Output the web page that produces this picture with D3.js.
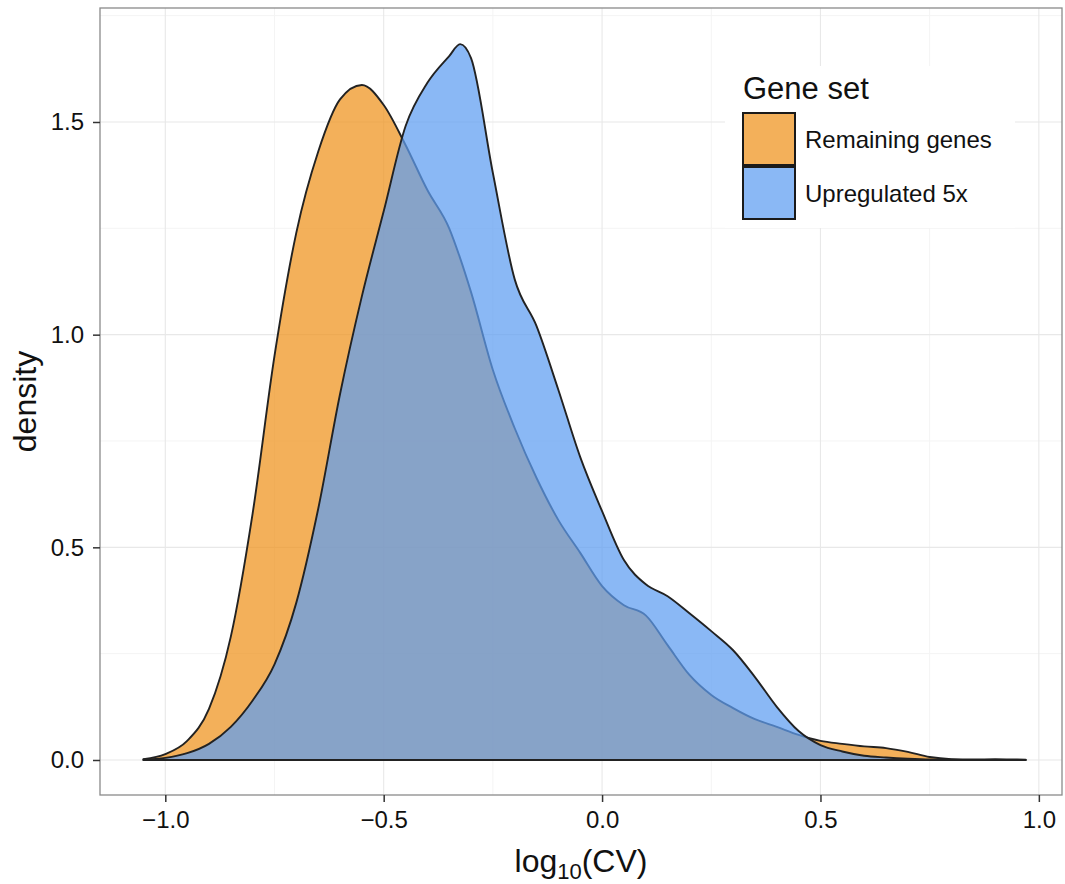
<!DOCTYPE html>
<html>
<head>
<meta charset="utf-8">
<script src="https://cdn.jsdelivr.net/npm/d3@7"></script>
<style>
	body { margin: 0; background: #fff; }
	text { font-family: "Liberation Sans", Arial, Helvetica, sans-serif; fill: #111; }
</style>
</head>
<body>
<svg id="chart"></svg>
<script>
// log10(CV) grid the densities were read at
const cvGrid = [-1.05, -1.0, -0.95, -0.9, -0.85, -0.8, -0.75, -0.7, -0.65, -0.6, -0.55, -0.5,
	-0.45, -0.4, -0.35, -0.325, -0.3, -0.25, -0.2, -0.15, -0.1, -0.05, 0, 0.05, 0.1, 0.15,
	0.2, 0.25, 0.3, 0.35, 0.4, 0.45, 0.5, 0.55, 0.6, 0.65, 0.7, 0.75, 0.8, 0.85, 0.9, 0.95, 0.97];

const remainingDensity = [0.002, 0.014, 0.045, 0.12, 0.29, 0.58, 0.95, 1.24, 1.43, 1.553, 1.587, 1.54,
	1.446, 1.34, 1.25, 1.18, 1.10, 0.917, 0.78, 0.663, 0.564, 0.487, 0.409, 0.364, 0.34, 0.27,
	0.20, 0.153, 0.122, 0.096, 0.078, 0.059, 0.045, 0.038, 0.032, 0.028, 0.019, 0.007, 0.002, 0.001, 0.002, 0.001, 0.0005];

const upregulatedDensity = [0.001, 0.005, 0.016, 0.038, 0.078, 0.14, 0.225, 0.37, 0.59, 0.86, 1.09, 1.29,
	1.49, 1.592, 1.655, 1.683, 1.65, 1.38, 1.13, 1.02, 0.87, 0.712, 0.585, 0.47, 0.413, 0.385,
	0.345, 0.303, 0.258, 0.195, 0.125, 0.068, 0.035, 0.02, 0.01, 0.006, 0.003, 0.001, 0.0005, 0.0003, 0.0003, 0.0003, 0.0003];

const seriesNames = ["Remaining genes", "Upregulated 5x"];
const xTicks = [-1.0, -0.5, 0.0, 0.5, 1.0];
const yTicks = [0.0, 0.5, 1.0, 1.5];
const xMinor = [-0.75, -0.25, 0.25, 0.75];
const yMinor = [0.25, 0.75, 1.25, 1.75];

const width = 1065, height = 884;
const panel = { left: 100, right: 1062, top: 8, bottom: 795 };
const colors = ["#ee931d", "#5e9ef1"];
const alpha = 0.73;

const svg = d3.select("#chart").attr("width", width).attr("height", height);

const x = d3.scaleLinear().domain([-1.1495, 1.053]).range([panel.left, panel.right]);
const y = d3.scaleLinear().domain([-0.0823, 1.768]).range([panel.bottom, panel.top]);

const fmt = d => (d < 0 ? "\u2212" : "") + Math.abs(d).toFixed(1);

// grid
const grid = svg.append("g");
grid.selectAll(".xminor").data(xMinor).enter().append("line")
	.attr("x1", d => x(d)).attr("x2", d => x(d))
	.attr("y1", panel.top).attr("y2", panel.bottom)
	.attr("stroke", "#f4f4f4").attr("stroke-width", 1);
grid.selectAll(".yminor").data(yMinor).enter().append("line")
	.attr("y1", d => y(d)).attr("y2", d => y(d))
	.attr("x1", panel.left).attr("x2", panel.right)
	.attr("stroke", "#f4f4f4").attr("stroke-width", 1);
grid.selectAll(".xmajor").data(xTicks).enter().append("line")
	.attr("x1", d => x(d)).attr("x2", d => x(d))
	.attr("y1", panel.top).attr("y2", panel.bottom)
	.attr("stroke", "#e8e8e8").attr("stroke-width", 1.1);
grid.selectAll(".ymajor").data(yTicks).enter().append("line")
	.attr("y1", d => y(d)).attr("y2", d => y(d))
	.attr("x1", panel.left).attr("x2", panel.right)
	.attr("stroke", "#e8e8e8").attr("stroke-width", 1.1);

// densities
const area = d3.area()
	.x((d, i) => x(cvGrid[i]))
	.y0(y(0))
	.y1(d => y(d))
	.curve(d3.curveMonotoneX);

[remainingDensity, upregulatedDensity].forEach((vals, i) => {
	svg.append("path")
		.datum(vals)
		.attr("d", area)
		.attr("fill", colors[i])
		.attr("fill-opacity", alpha)
		.attr("stroke", "#222")
		.attr("stroke-width", 1.9)
		.attr("stroke-linejoin", "round");
});

// panel border
svg.append("rect")
	.attr("x", panel.left).attr("y", panel.top)
	.attr("width", panel.right - panel.left).attr("height", panel.bottom - panel.top)
	.attr("fill", "none").attr("stroke", "#8a8a8a").attr("stroke-width", 1.3);

// x axis
const xAxis = svg.append("g")
	.attr("transform", `translate(0, ${panel.bottom})`)
	.call(d3.axisBottom(x).tickValues(xTicks).tickSize(7).tickPadding(9).tickFormat(fmt));
xAxis.select(".domain").remove();
xAxis.selectAll(".tick line").attr("stroke", "#333").attr("stroke-width", 1.5);
xAxis.selectAll(".tick text").style("font-size", "24px").attr("fill", "#111");

// y axis
const yAxis = svg.append("g")
	.attr("transform", `translate(${panel.left}, 0)`)
	.call(d3.axisLeft(y).tickValues(yTicks).tickSize(7).tickPadding(9).tickFormat(fmt));
yAxis.select(".domain").remove();
yAxis.selectAll(".tick line").attr("stroke", "#333").attr("stroke-width", 1.5);
yAxis.selectAll(".tick text").style("font-size", "24px").attr("fill", "#111");

// axis titles
const xTitle = svg.append("text")
	.attr("x", (panel.left + panel.right) / 2)
	.attr("y", 872)
	.attr("text-anchor", "middle")
	.style("font-size", "32px");
xTitle.append("tspan").text("log");
xTitle.append("tspan").attr("dy", 7).style("font-size", "22px").text("10");
xTitle.append("tspan").attr("dy", -7).text("(CV)");

svg.append("text")
	.attr("transform", `translate(36, ${(panel.top + panel.bottom) / 2}) rotate(-90)`)
	.attr("text-anchor", "middle")
	.style("font-size", "32px")
	.text("density");

// legend
const legend = svg.append("g");
legend.append("rect")
	.attr("x", 725).attr("y", 66).attr("width", 290).attr("height", 162)
	.attr("fill", "#fff");
legend.append("text")
	.attr("x", 743).attr("y", 99)
	.style("font-size", "31px")
	.text("Gene set");
seriesNames.forEach((name, i) => {
	legend.append("rect")
		.attr("x", 743).attr("y", 113 + i * 54)
		.attr("width", 52).attr("height", 52)
		.attr("fill", colors[i]).attr("fill-opacity", alpha)
		.attr("stroke", "#1a1a1a").attr("stroke-width", 2);
	legend.append("text")
		.attr("x", 805).attr("y", 148 + i * 54)
		.style("font-size", "24px")
		.text(name);
});
</script>
</body>
</html>
